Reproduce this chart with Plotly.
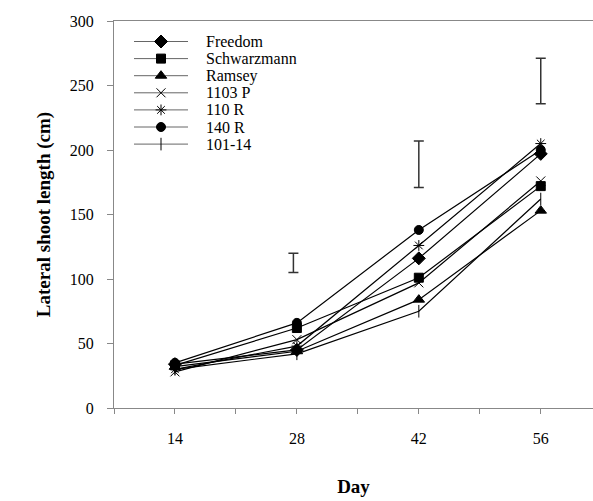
import plotly.graph_objects as go

days = [14, 28, 42, 56]
cultivars = ["Freedom", "Schwarzmann", "Ramsey", "1103 P", "110 R", "140 R", "101-14"]
freedom = [34, 45, 116, 197]
schwarzmann = [33, 62, 101, 172]
ramsey = [32, 44, 84, 153]
p1103 = [28, 53, 97, 176]
r110 = [30, 48, 126, 205]
r140 = [35, 66, 138, 200]
c10114 = [30, 42, 75, 162]
series = [freedom, schwarzmann, ramsey, p1103, r110, r140, c10114]

symbols = ["diamond", "square", "triangle-up", "x-thin-open", "asterisk-open", "circle", "line-ns-open"]
sizes = [10, 9, 10, 9, 9, 9, 9]

# LSD bars
lsd_x = [27.6, 42, 56]
lsd_center = [112.5, 189, 253.5]
lsd_half = [7.5, 18, 17.7]

# plot area in pixels (layout)
W, H = 593, 501
L, R, T, B = 114, 0, 21, 93
PW, PH = W - L - R, H - T - B
XR = [7, 62]
YR = [0, 300]

def px_x(px):
    return (px - L) / PW

def px_y(py):
    return (H - B - py) / PH

fig = go.Figure()
for name, vals, sym, sz in zip(cultivars, series, symbols, sizes):
    fig.add_trace(go.Scatter(
        x=days, y=vals, name=name, mode="lines+markers", showlegend=False,
        line=dict(color="black", width=1.2),
        marker=dict(symbol=sym, size=sz, color="black",
                    line=dict(color="black", width=1)),
    ))

fig.add_trace(go.Scatter(
    x=lsd_x, y=lsd_center, mode="markers", showlegend=False,
    marker=dict(size=1, color="rgba(0,0,0,0)"),
    error_y=dict(type="data", array=lsd_half, symmetric=True,
                 color="#333", thickness=1.5, width=5),
    hoverinfo="skip",
))

# Manual legend (layout: row positions in pixels)
leg_top, leg_row = 41.5, 17.1
leg_x0, leg_x1, leg_xm, leg_xt = 134, 188, 161, 204
leg_rows = [leg_top + i * leg_row for i in range(len(cultivars))]
for name, sym, sz, py in zip(cultivars, symbols, sizes, leg_rows):
    fig.add_shape(type="line", xref="paper", yref="paper", layer="below",
                  x0=px_x(leg_x0), x1=px_x(leg_x1), y0=px_y(py), y1=px_y(py),
                  line=dict(color="#666", width=1))
    fig.add_annotation(x=px_x(leg_xt), y=px_y(py), xref="paper", yref="paper",
                       text=name, showarrow=False, xanchor="left", yanchor="middle",
                       font=dict(size=16))
    fig.add_trace(go.Scatter(
        x=[XR[0] + px_x(leg_xm) * (XR[1] - XR[0])],
        y=[YR[0] + px_y(py) * (YR[1] - YR[0])],
        mode="markers", showlegend=False, hoverinfo="skip",
        marker=dict(symbol=sym, size=sz, color="black",
                    line=dict(color="black", width=1)),
    ))

font_serif = "Liberation Serif, Times New Roman, serif"
fig.update_layout(
    width=W, height=H,
    margin=dict(l=L, r=R, t=T, b=B),
    paper_bgcolor="white", plot_bgcolor="white",
    font=dict(family=font_serif, size=16, color="black"),
    showlegend=False,
    xaxis=dict(
        range=XR, tickvals=days, ticktext=[str(d) for d in days],
        showgrid=False, zeroline=False, showline=True, linecolor="#888",
        linewidth=1, mirror=True, ticks="outside", ticklen=5, tickcolor="#888",
        minor=dict(dtick=7, tick0=7, ticks="outside", ticklen=5, tickcolor="#888", showgrid=False),
        ticklabelstandoff=11,
        title=dict(text="<b>Day</b>", font=dict(size=19), standoff=33),
    ),
    yaxis=dict(
        range=YR, dtick=50, showgrid=False, zeroline=False,
        showline=True, linecolor="#888", linewidth=1,
        ticks="outside", ticklen=6, tickcolor="#888",
        ticklabelstandoff=10,
        title=dict(text="<b>Lateral shoot length (cm)</b>", font=dict(size=19), standoff=14),
    ),
)

fig.write_html("out.html")
